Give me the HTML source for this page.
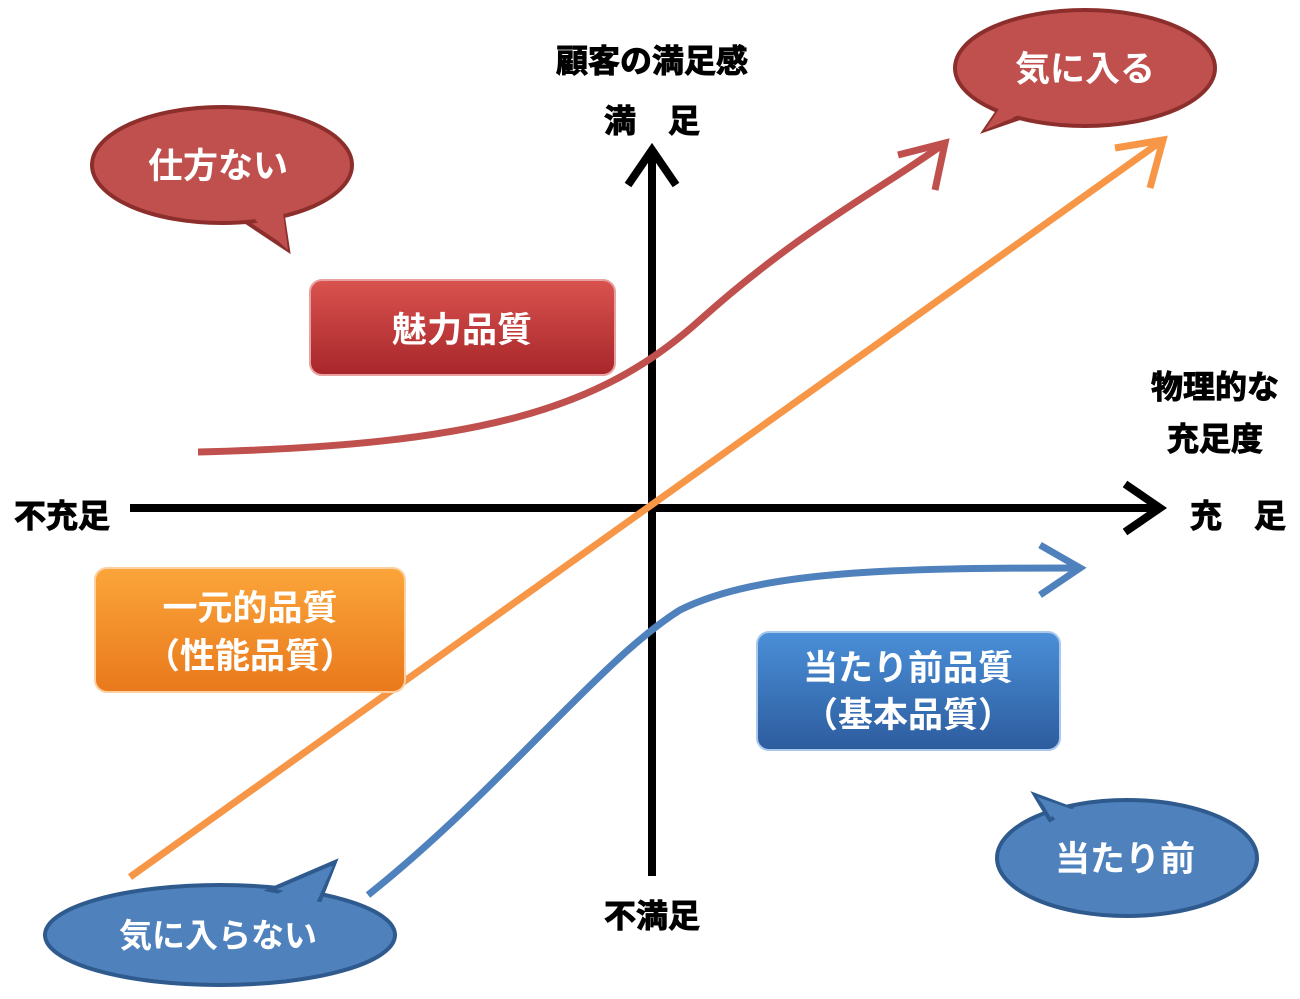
<!DOCTYPE html>
<html><head><meta charset="utf-8"><style>
html,body{margin:0;padding:0;background:#fff;}
svg text{font-family:"Liberation Sans","Noto Sans CJK JP",sans-serif;font-weight:bold;}
</style></head><body>
<svg width="1300" height="994" viewBox="0 0 1300 994" xmlns="http://www.w3.org/2000/svg">
<defs>
<linearGradient id="gr" x1="0" y1="0" x2="0" y2="1"><stop offset="0" stop-color="#d9534f"/><stop offset="1" stop-color="#a8262a"/></linearGradient>
<linearGradient id="go" x1="0" y1="0" x2="0" y2="1"><stop offset="0" stop-color="#fba53a"/><stop offset="1" stop-color="#e9791c"/></linearGradient>
<linearGradient id="gb" x1="0" y1="0" x2="0" y2="1"><stop offset="0" stop-color="#4a8fd8"/><stop offset="1" stop-color="#2d5c9e"/></linearGradient>
</defs>
<line x1="652" y1="150" x2="652" y2="876" stroke="#000" stroke-width="8"/>
<polyline points="628,185 652,150 676,185" fill="none" stroke="#000" stroke-width="8"/>
<line x1="130" y1="508" x2="1160" y2="508" stroke="#000" stroke-width="8"/>
<polyline points="1125,484 1160,508 1125,532" fill="none" stroke="#000" stroke-width="8"/>
<path d="M198,452 C480,445 600,410 700,320 S880,190 945,143" fill="none" stroke="#c0504d" stroke-width="7"/>
<polyline points="898,155 945,143 935,190" fill="none" stroke="#c0504d" stroke-width="7"/>
<line x1="130" y1="877" x2="1163" y2="140" stroke="#f79646" stroke-width="7"/>
<polyline points="1115,148 1163,140 1150,188" fill="none" stroke="#f79646" stroke-width="7"/>
<path d="M368,895 C500,790 600,660 680,610 C760,570 900,568 1080,568" fill="none" stroke="#4f81bd" stroke-width="7"/>
<polyline points="1040,545 1080,568 1040,595" fill="none" stroke="#4f81bd" stroke-width="7"/>
<g stroke="#000" stroke-width="1">
<text x="652" y="72" font-size="32" text-anchor="middle">顧客の満足感</text>
<text x="652" y="132" font-size="32" text-anchor="middle">満　足</text>
<text x="1215" y="398" font-size="32" text-anchor="middle">物理的な</text>
<text x="1215" y="450" font-size="32" text-anchor="middle">充足度</text>
<text x="62" y="527" font-size="32" text-anchor="middle">不充足</text>
<text x="1238" y="527" font-size="32" text-anchor="middle">充　足</text>
<text x="652" y="927" font-size="32" text-anchor="middle">不満足</text>
</g>
<rect x="310" y="280" width="305" height="95" rx="12" fill="url(#gr)" stroke="#e8a0a0" stroke-width="2"/>
<text x="462" y="342" font-size="35" fill="#fff" text-anchor="middle">魅力品質</text>
<rect x="95" y="568" width="310" height="124" rx="12" fill="url(#go)" stroke="#fcd0a0" stroke-width="2"/>
<text x="250" y="620" font-size="35" fill="#fff" text-anchor="middle">一元的品質</text>
<text x="250" y="668" font-size="35" fill="#fff" text-anchor="middle">（性能品質）</text>
<rect x="757" y="632" width="303" height="118" rx="12" fill="url(#gb)" stroke="#a8c8ec" stroke-width="2"/>
<text x="908" y="680" font-size="35" fill="#fff" text-anchor="middle">当たり前品質</text>
<text x="908" y="727" font-size="35" fill="#fff" text-anchor="middle">（基本品質）</text>
<g stroke="#8c2f2c" stroke-width="4" fill="#c0504d">
<path d="M240,218 L288,250 L282,210 Z"/>
<ellipse cx="222" cy="165" rx="130" ry="58"/>
<path d="M1020,118 L985,130 L1000,108 Z"/>
<ellipse cx="1085" cy="68" rx="130" ry="58"/>
</g>
<path d="M255,220 L288,250 L282,205 Z" fill="#c0504d"/>
<path d="M1030,110 L985,130 L1005,100 Z" fill="#c0504d"/>
<g stroke="#2f5a8e" stroke-width="4" fill="#4f81bd">
<ellipse cx="220" cy="935" rx="175" ry="50"/>
<ellipse cx="1127" cy="858" rx="130" ry="58"/>
</g>
<path d="M270,890 L335,862 L320,900 Z" fill="#4f81bd" stroke="#2f5a8e" stroke-width="4"/>
<path d="M275,895 L333,866 L315,905 Z" fill="#4f81bd"/>
<path d="M1070,808 L1035,795 L1050,820 Z" fill="#4f81bd" stroke="#2f5a8e" stroke-width="4"/>
<path d="M1080,812 L1037,797 L1060,825 Z" fill="#4f81bd"/>
<text x="218" y="178" font-size="35" fill="#fff" text-anchor="middle">仕方ない</text>
<text x="1085" y="81" font-size="35" fill="#fff" text-anchor="middle">気に入る</text>
<text x="218" y="947" font-size="33" fill="#fff" text-anchor="middle">気に入らない</text>
<text x="1125" y="871" font-size="35" fill="#fff" text-anchor="middle">当たり前</text>
</svg>
</body></html>
